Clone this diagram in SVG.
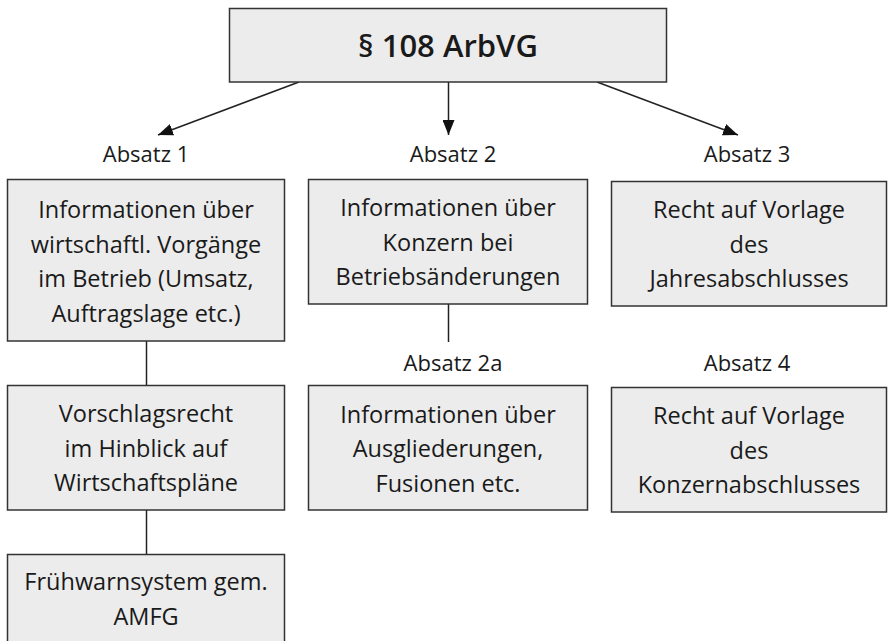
<svg xmlns="http://www.w3.org/2000/svg" width="888" height="641" viewBox="0 0 888 641">
<defs>
<style>
.box{fill:#ececec;stroke:#333;stroke-width:1.5}
.t{font-family:"Open Sans","Liberation Sans",sans-serif;font-size:23.5px;fill:#1a1a1a;text-anchor:middle}
.lbl{font-family:"Open Sans","Liberation Sans",sans-serif;font-size:22px;fill:#1a1a1a;text-anchor:middle}
.title{font-family:"Open Sans","Liberation Sans",sans-serif;font-size:31px;font-weight:600;fill:#1a1a1a;text-anchor:middle}
.conn{stroke:#222;stroke-width:1.5;fill:none}
</style>
<marker id="arr" markerUnits="userSpaceOnUse" markerWidth="16" markerHeight="12" refX="15" refY="6" orient="auto">
<path d="M0,0 L15,6 L0,12 z" fill="#111"/>
</marker>
</defs>
<rect width="888" height="641" fill="#fff"/>

<g id="connectors">
<line class="conn" x1="299" y1="82" x2="158" y2="135" marker-end="url(#arr)"/>
<line class="conn" x1="448.5" y1="82" x2="448.5" y2="135" marker-end="url(#arr)"/>
<line class="conn" x1="597" y1="82" x2="738" y2="135" marker-end="url(#arr)"/>
<line class="conn" x1="146.5" y1="341" x2="146.5" y2="385"/>
<line class="conn" x1="146.5" y1="510" x2="146.5" y2="554"/>
<line class="conn" x1="448.5" y1="304" x2="448.5" y2="342"/>
</g>

<g id="labels">
<text class="lbl" x="146" y="162">Absatz 1</text>
<text class="lbl" x="453" y="162">Absatz 2</text>
<text class="lbl" x="747" y="162">Absatz 3</text>
<text class="lbl" x="453" y="371">Absatz 2a</text>
<text class="lbl" x="747" y="371">Absatz 4</text>
</g>

<g id="top">
<rect class="box" x="229.5" y="8.5" width="437" height="73.5"/>
<text class="title" x="448" y="57">§ 108 ArbVG</text>
</g>

<g id="abs1">
<rect class="box" x="7.5" y="179.5" width="277" height="161.5"/>
<text class="t" x="146" y="218">Informationen über</text>
<text class="t" x="146" y="252.5">wirtschaftl. Vorgänge</text>
<text class="t" x="146" y="287">im Betrieb (Umsatz,</text>
<text class="t" x="146" y="321.5">Auftragslage etc.)</text>
</g>

<g id="vorschlag">
<rect class="box" x="7.5" y="385.5" width="277" height="124.5"/>
<text class="t" x="146" y="422">Vorschlagsrecht</text>
<text class="t" x="146" y="456.5">im Hinblick auf</text>
<text class="t" x="146" y="491">Wirtschaftspläne</text>
</g>

<g id="fruehwarn">
<rect class="box" x="7.5" y="554.5" width="277" height="110"/>
<text class="t" x="146" y="590">Frühwarnsystem gem.</text>
<text class="t" x="146" y="624.5">AMFG</text>
</g>

<g id="abs2">
<rect class="box" x="308.5" y="179.5" width="279" height="124.5"/>
<text class="t" x="448" y="216">Informationen über</text>
<text class="t" x="448" y="250.5">Konzern bei</text>
<text class="t" x="448" y="285">Betriebsänderungen</text>
</g>

<g id="abs2a">
<rect class="box" x="308.5" y="385.5" width="279" height="124.5"/>
<text class="t" x="448" y="422.5">Informationen über</text>
<text class="t" x="448" y="457">Ausgliederungen,</text>
<text class="t" x="448" y="491.5">Fusionen etc.</text>
</g>

<g id="abs3">
<rect class="box" x="611.5" y="181.5" width="275" height="124.5"/>
<text class="t" x="749" y="218">Recht auf Vorlage</text>
<text class="t" x="749" y="252.5">des</text>
<text class="t" x="749" y="287">Jahresabschlusses</text>
</g>

<g id="abs4">
<rect class="box" x="611.5" y="387.5" width="275" height="124.5"/>
<text class="t" x="749" y="424">Recht auf Vorlage</text>
<text class="t" x="749" y="458.5">des</text>
<text class="t" x="749" y="493">Konzernabschlusses</text>
</g>
</svg>
